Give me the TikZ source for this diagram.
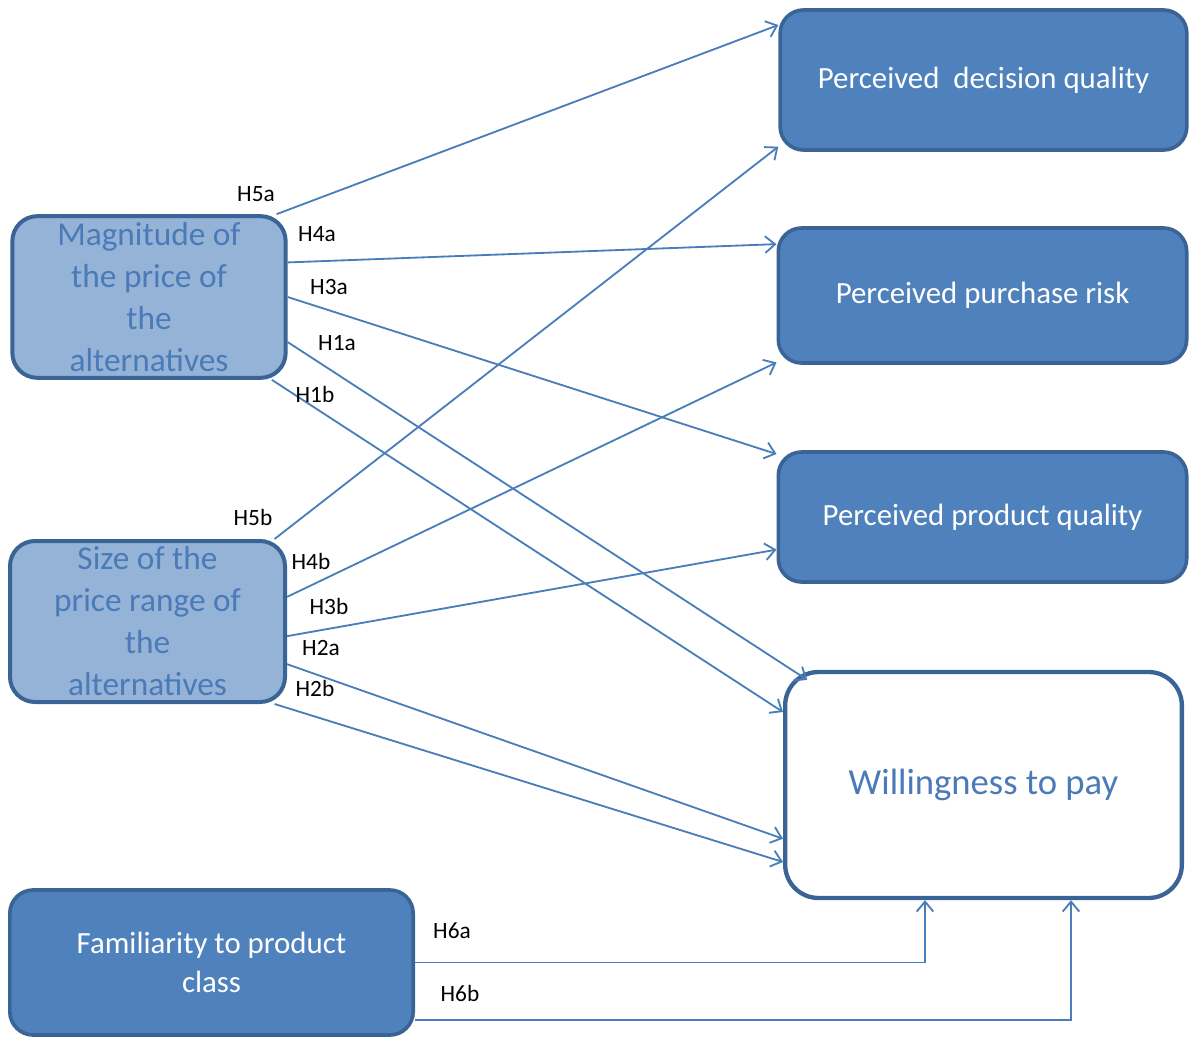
\documentclass[tikz,border=0pt]{standalone}
\usepackage{fontspec}
\setmainfont{Carlito}
\usetikzlibrary{arrows.meta,calc}

\definecolor{boxfill}{HTML}{4F81BD}
\definecolor{boxline}{HTML}{3A6496}
\definecolor{lightfill}{HTML}{95B3D7}
\definecolor{lighttext}{HTML}{4A7AB8}
\definecolor{arrcol}{HTML}{4A7EBB}

\tikzset{
  darkbox/.style={draw=boxline,fill=boxfill,line width=2.2pt,rounded corners=14pt,
    text=white,font=\fontsize{18.5}{23}\selectfont,align=center,inner sep=0pt},
  lightbox/.style={draw=boxline,fill=lightfill,line width=2.4pt,rounded corners=15pt,
    text=lighttext,font=\fontsize{20}{25.2}\selectfont,align=center,inner sep=0pt},
  wtpbox/.style={draw=boxline,fill=white,line width=2.6pt,rounded corners=20pt,
    text=lighttext,font=\fontsize{22}{26}\selectfont,align=center,inner sep=0pt},
  hlab/.style={font=\fontsize{14}{16}\selectfont,inner sep=0pt},
  arr/.style={->,draw=arrcol,line width=1.1pt},
}

\begin{document}
\begin{tikzpicture}[x=0.6pt,y=-0.6pt,>={Straight Barb[length=6pt,width=10pt]}]

\useasboundingbox (0,0) rectangle (1189,1037);

% Node: DQ
\node[darkbox,minimum width=244pt,minimum height=84pt] (dq) at (983.5,80) {Perceived\ \ decision quality};

% Node: PR
\node[darkbox,minimum width=245pt,minimum height=81pt] (pr) at (982.5,295.5) {Perceived purchase risk};

% Node: PQ
\node[darkbox,minimum width=245pt,minimum height=78pt] (pq) at (982.5,517) {Perceived product quality};

% Node: WTP
\node[wtpbox,minimum width=238pt,minimum height=135.6pt] (wtp) at (983.5,785) {Willingness to pay};

% Node: MAG
\node[lightbox,minimum width=164pt,minimum height=97pt] (mag) at (149,297) {Magnitude of\\the price of\\the\\alternatives};

% Node: SIZE
\node[lightbox,minimum width=165pt,minimum height=96.6pt] (size) at (147.5,621.5) {Size of the\\price range of\\the\\alternatives};

% Node: FAM
\node[darkbox,minimum width=242pt,minimum height=87pt] (fam) at (211.5,962.5) {Familiarity to product\\class};

% Edge: MAG -> DQ
\draw[arr] (mag.33.5) -- (dq.165.7);
\node[hlab] (l5a) at (256,194) {H5a};

% Edge: MAG -> PR
\draw[arr] (mag.14.3) -- (pr.166.1);
\node[hlab] (l4a) at (317,234) {H4a};

% Edge: MAG -> PQ
\draw[arr] (mag.0) -- (pq.163.4);
\node[hlab] (l3a) at (329,287) {H3a};

% Edge: MAG -> WTP
\draw[arr,shorten >=-11pt] (mag.-18.6) -- (wtp.149.6);
\node[hlab] (l1a) at (337,343) {H1a};

\draw[arr] (mag.-34.2) -- (wtp.160);
\node[hlab] (l1b) at (315,394) {H1b};

% Edge: SIZE -> DQ
\draw[arr] (size.33.2) -- (dq.198.5);
\node[hlab] (l5b) at (253,517) {H5b};

% Edge: SIZE -> PR
\draw[arr] (size.10.9) -- (pr.198.3);
\node[hlab] (l4b) at (311,561) {H4b};

% Edge: SIZE -> PQ
\draw[arr] (size.-6.4) -- (pq.189.2);
\node[hlab] (l3b) at (329,606) {H3b};

% Edge: SIZE -> WTP
\draw[arr] (size.-17.5) -- (wtp.195.5);
\node[hlab] (l2a) at (321,648) {H2a};

\draw[arr] (size.-33.9) -- (wtp.201.9);
\node[hlab] (l2b) at (315,688) {H2b};

% Edge: FAM -> WTP
\draw[arr] (fam.east) -| ($(wtp.south)+(-58.5,0)$);
\node[hlab] (l6a) at (452,931) {H6a};

\draw[arr] ($(fam.east)+(0,57.5)$) -| ($(wtp.south)+(87.5,0)$);
\node[hlab] (l6b) at (460,993) {H6b};

\end{tikzpicture}
\end{document}
